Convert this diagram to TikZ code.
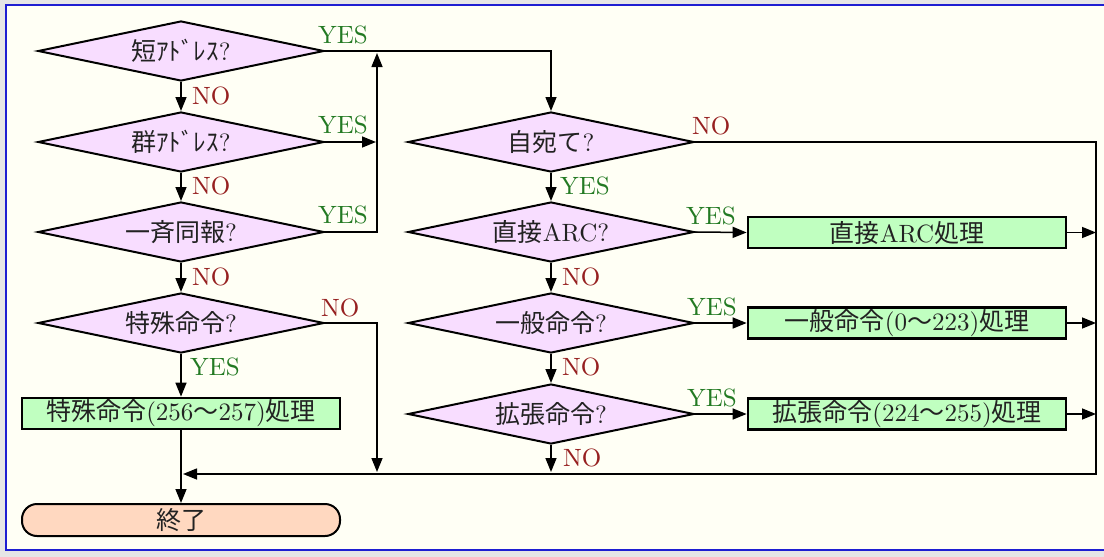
\documentclass[tikz,border=0pt]{standalone}
\usepackage{fontspec}
\setmainfont{lmroman10-regular.otf}
\newfontfamily\jp{Noto Sans CJK JP}
\usetikzlibrary{shapes.geometric,arrows.meta}

\definecolor{bggrey}{HTML}{E6E6E6}
\definecolor{paper}{HTML}{FFFFF5}
\definecolor{frameblue}{HTML}{1E1ED2}
\definecolor{decfill}{HTML}{F8DDFF}
\definecolor{procfill}{HTML}{C0FFC0}
\definecolor{endfill}{HTML}{FFD8C0}
\definecolor{yesgreen}{HTML}{237A23}
\definecolor{nored}{HTML}{962020}
\definecolor{ink}{HTML}{222222}

\begin{document}
\begin{tikzpicture}[x=1pt,y=-1pt,
  every node/.style={font=\fontsize{25}{30}\selectfont, text=ink},
  decision/.style={diamond, draw=black, line width=2pt, fill=decfill,
    minimum width=286pt, minimum height=60pt, inner sep=0pt, shape aspect=4.8},
  process/.style={rectangle, draw=black, line width=2.7pt, fill=procfill,
    minimum width=318pt, minimum height=31pt, inner sep=0pt},
  terminal/.style={rectangle, rounded corners=15pt, draw=black, line width=2pt,
    fill=endfill, minimum width=318pt, minimum height=32pt, inner sep=0pt},
  flow/.style={line width=1.5pt, -{Triangle[length=14pt,width=11pt]}},
  yes/.style={text=yesgreen, inner sep=0pt},
  no/.style={text=nored, inner sep=0pt},
]
% page and frame
\useasboundingbox (0,0) rectangle (1104,557);
\fill[bggrey] (0,0) rectangle (1104,557);
\fill[paper] (6,5) rectangle (1104,550);
\draw[frameblue, line width=2pt] (1104,5) -- (6,5) -- (6,550) -- (1104,550);

% left column
\node[decision] (d1) at (181,51)  {{\jp 短ｱﾄﾞﾚｽ}?};
\node[decision] (d2) at (181,142) {{\jp 群ｱﾄﾞﾚｽ}?};
\node[decision] (d3) at (181,232) {{\jp 一斉同報}?};
\node[decision] (d4) at (181,323) {{\jp 特殊命令}?};
\node[process]  (b1) at (181,413.5) {{\jp 特殊命令}(256{\jp 〜}257){\jp 処理}};
\node[terminal] (e)  at (181,520) {{\jp 終了}};

% right column
\node[decision] (d5) at (551,142) {{\jp 自宛て}?};
\node[decision] (d6) at (551,232) {{\jp 直接}ARC?};
\node[decision] (d7) at (551,323) {{\jp 一般命令}?};
\node[decision] (d8) at (551,414) {{\jp 拡張命令}?};
\node[process]  (b2) at (907,232.5) {{\jp 直接}ARC{\jp 処理}};
\node[process]  (b3) at (907,323) {{\jp 一般命令}(0{\jp 〜}223){\jp 処理}};
\node[process]  (b4) at (907,414) {{\jp 拡張命令}(224{\jp 〜}255){\jp 処理}};

% junction points
\coordinate (jup) at (377,53);
\coordinate (jmid) at (376,142);
\coordinate (jlow) at (377,472);
\coordinate (rb) at (1096,474);
\coordinate (jm) at (183,474);
\coordinate (j8) at (551,472);

% connectors
\draw[flow] (d1.east) -| (d5.north);
\draw[flow] (d1.south) -- (d2.north);
\draw[flow] (d2.east) -- (jmid);
\draw[flow] (d2.south) -- (d3.north);
\draw[flow] (d3.east) -| (jup);
\draw[flow] (d3.south) -- (d4.north);
\draw[flow] (d4.east) -| (jlow);
\draw[flow] (d4.south) -- (b1.north);
\draw[flow] (b1.south) -- (e.north);

\draw[flow] (d5.east) -| (rb) -- (jm);
\draw[flow] (d5.south) -- (d6.north);
\draw[flow] (d6.south) -- (d7.north);
\draw[flow] (d7.south) -- (d8.north);
\draw[flow] (d8.south) -- (j8);
\draw[flow] (d6.east) -- (b2.west);
\draw[flow] (d7.east) -- (b3.west);
\draw[flow] (d8.east) -- (b4.west);
\draw[flow] (b2.east) -- (b2.east -| rb);
\draw[flow] (b3.east) -- (b3.east -| rb);
\draw[flow] (b4.east) -- (b4.east -| rb);

% branch labels
\node[yes, anchor=base west] (ly1) at (318,43)  {YES};
\node[yes, anchor=base west] (ly2) at (318,133) {YES};
\node[yes, anchor=base west] (ly3) at (318,223) {YES};
\node[no,  anchor=base west] (ln4) at (321,316) {NO};
\node[no,  anchor=west] (ln1) at (192,96)  {NO};
\node[no,  anchor=west] (ln2) at (192,186) {NO};
\node[no,  anchor=west] (ln3) at (192,277) {NO};
\node[yes, anchor=west] (ly4) at (190,367) {YES};

\node[no,  anchor=base west] (ln5) at (692,134) {NO};
\node[yes, anchor=base west] (ly6) at (686,224) {YES};
\node[yes, anchor=base west] (ly7) at (687,315) {YES};
\node[yes, anchor=base west] (ly8) at (687,406) {YES};
\node[yes, anchor=west] (ly5) at (560,186) {YES};
\node[no,  anchor=west] (ln6) at (562,277) {NO};
\node[no,  anchor=west] (ln7) at (562,367) {NO};
\node[no,  anchor=west] (ln8) at (563,458) {NO};
\end{tikzpicture}
\end{document}
